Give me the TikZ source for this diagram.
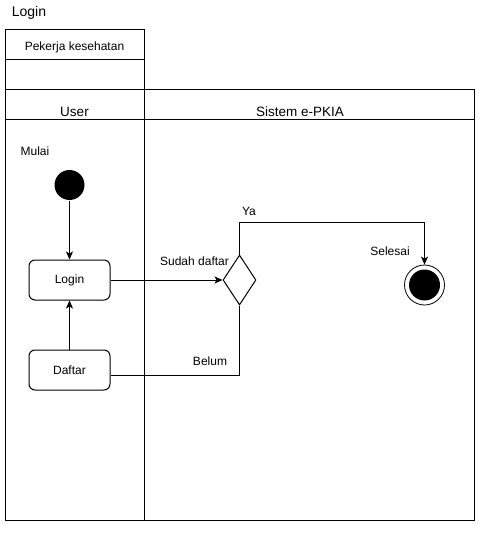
\documentclass[tikz,border=0pt]{standalone}
\usepackage{fontspec}
\setmainfont{Liberation Sans}
\usetikzlibrary{arrows.meta,positioning,shapes.geometric,calc}

\begin{document}
\begin{tikzpicture}[x=1pt, y=-1pt, line width=1pt, every node/.style={font=\fontsize{12}{14}\selectfont, inner sep=0pt}, act/.style={rectangle, rounded corners=6pt, draw=black, fill=white, minimum width=81pt, minimum height=40pt}, dec/.style={diamond, draw=black, fill=white, minimum width=33pt, minimum height=50pt}, lanehead/.style={font=\fontsize{13.5}{16}\selectfont}, arr/.style={-{Stealth[length=8pt, width=7pt, inset=2pt]}}]
\useasboundingbox (0,0) rectangle (488,545);
% swimlanes
\draw (5,30) rectangle (144,90);
\draw (5,60) -- (144,60);
\draw (5,90) rectangle (474,520);
\draw (144,90) -- (144,520);
\draw (5,120) -- (474,120);
\node[font=\fontsize{14}{16}\selectfont, anchor=base] (title) at (29,17) {Login};
\node[anchor=base] (pool) at (74.5,51) {Pekerja kesehatan};
\node[lanehead, anchor=base] (user) at (74.5,116.5) {User};
\node[lanehead, anchor=base] (sys) at (300,116.5) {Sistem e-PKIA};
% activity
\node[circle, fill=black, minimum size=30pt] (start) at (69.5,185) {};
\node[anchor=base] (mulai) at (35,156) {Mulai};
\node[act] (login) at (69.5,280) {Login};
\node[act] (daftar) at (69.5,370) {Daftar};
\node[dec] (cek) at (239.5,280) {};
\node[circle, draw=black, line width=0.8pt, minimum size=40pt] (end) at (424.5,285) {};
\node[circle, fill=black, minimum size=31pt] (endin) at (end) {};
\node[anchor=base] (selesai) at (390,255.5) {Selesai};
\coordinate (yaturn) at (424.5,222);
\coordinate (belumend) at ($(daftar.east)+(0,5)$);
\draw[arr] (start) -- (login);
\draw[arr] (daftar) -- (login);
\draw[arr] (login) -- (cek) node[pos=0.75, anchor=base, yshift=14.5pt] (sudah) {Sudah daftar};
\draw[arr] (cek.north) |- (yaturn) -- (end);
\draw (cek.south) |- (belumend);
\node[anchor=base] (ya) at (249,215) {Ya};
\node[anchor=base] (belum) at (210,365) {Belum};
\end{tikzpicture}
\end{document}
